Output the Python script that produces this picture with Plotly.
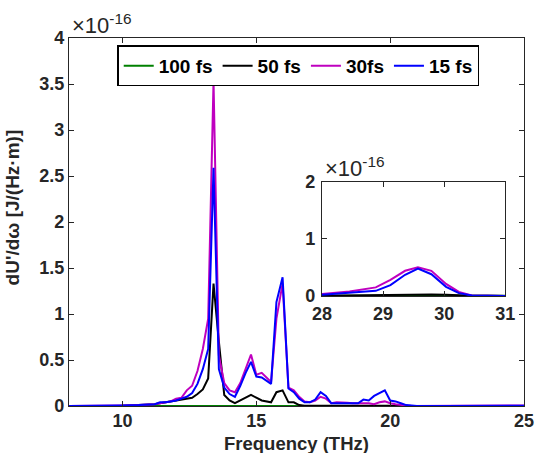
import plotly.graph_objects as go

# ---------------- data (values in units of 1e-16 J/(Hz·m)) ----------------
freq = [8.0, 9.0, 10.0, 10.6, 11.0, 11.2, 11.4, 11.6, 11.8, 12.0, 12.2, 12.4, 12.6, 12.8,
        13.0, 13.2, 13.4, 13.6, 13.8, 14.0, 14.2, 14.4, 14.6, 14.8, 15.0, 15.2, 15.55,
        15.75, 15.98, 16.2, 16.4, 16.6, 16.8, 17.0, 17.2, 17.4, 17.6, 17.8, 18.0, 18.2,
        18.4, 18.6, 18.8, 19.0, 19.2, 19.4, 19.6, 19.8, 20.0, 20.2, 20.4, 20.6, 20.8,
        21.0, 22.0, 23.0, 24.0, 25.0]

fs100 = [0.0, 0.0, 0.0, 0.0, 0.0, 0.0, 0.002, 0.002, 0.002, 0.003, 0.003, 0.003, 0.004, 0.004,
         0.005, 0.005, 0.006, 0.005, 0.004, 0.004, 0.003, 0.003, 0.003, 0.003, 0.003, 0.003, 0.003,
         0.003, 0.003, 0.003, 0.002, 0.002, 0.002, 0.002, 0.002, 0.002, 0.002, 0.002, 0.001, 0.001,
         0.001, 0.001, 0.001, 0.001, 0.001, 0.001, 0.001, 0.001, 0.001, 0.0, 0.0, 0.0, 0.0,
         0.0, 0.0, 0.0, 0.0, 0.0]

fs50 = [0.0, 0.0, 0.003, 0.01, 0.015, 0.02, 0.03, 0.04, 0.05, 0.06, 0.07, 0.08, 0.09, 0.13,
        0.18, 0.30, 1.33, 0.70, 0.12, 0.06, 0.03, 0.06, 0.09, 0.12, 0.09, 0.06, 0.04,
        0.15, 0.17, 0.04, 0.04, 0.01, 0.003, 0.003, 0.003, 0.003, 0.003, 0.003, 0.003, 0.003,
        0.003, 0.003, 0.003, 0.005, 0.005, 0.005, 0.008, 0.01, 0.005, 0.003, 0.0, 0.0, 0.0,
        0.0, 0.0, 0.0, 0.0, 0.0]

fs30 = [0.0, 0.0, 0.005, 0.01, 0.015, 0.02, 0.03, 0.04, 0.05, 0.08, 0.09, 0.17, 0.22, 0.38,
        0.62, 0.95, 3.53, 0.55, 0.25, 0.17, 0.15, 0.25, 0.40, 0.56, 0.34, 0.36, 0.26,
        0.95, 1.33, 0.20, 0.17, 0.10, 0.05, 0.04, 0.06, 0.10, 0.08, 0.03, 0.04, 0.04,
        0.035, 0.03, 0.03, 0.03, 0.03, 0.02, 0.04, 0.05, 0.03, 0.02, 0.01, 0.005, 0.0,
        0.0, 0.0, 0.0, 0.005, 0.005]

fs15 = [0.0, 0.0, 0.005, 0.01, 0.015, 0.02, 0.04, 0.04, 0.05, 0.06, 0.08, 0.10, 0.14, 0.24,
        0.40, 0.62, 2.59, 0.40, 0.20, 0.13, 0.10, 0.22, 0.36, 0.48, 0.32, 0.31, 0.24,
        1.13, 1.40, 0.19, 0.15, 0.08, 0.04, 0.04, 0.07, 0.15, 0.11, 0.03, 0.03, 0.03,
        0.03, 0.03, 0.03, 0.07, 0.06, 0.11, 0.14, 0.17, 0.06, 0.05, 0.03, 0.01, 0.005,
        0.0, 0.0, 0.0, 0.003, 0.003]

inset_freq = [28.0, 28.45, 28.88, 29.12, 29.36, 29.57, 29.79, 30.03, 30.24, 30.45, 30.7, 31.0]
inset_100 = [0.005, 0.006, 0.008, 0.009, 0.01, 0.01, 0.01, 0.008, 0.006, 0.004, 0.003, 0.002]
inset_50 = [0.005, 0.01, 0.02, 0.025, 0.03, 0.03, 0.025, 0.02, 0.01, 0.005, 0.002, 0.001]
inset_30 = [0.035, 0.08, 0.15, 0.28, 0.44, 0.50, 0.44, 0.21, 0.07, 0.01, 0.003, 0.001]
inset_15 = [0.02, 0.05, 0.09, 0.19, 0.37, 0.48, 0.38, 0.16, 0.05, 0.01, 0.003, 0.001]

names = ["100 fs", "50 fs", "30fs", "15 fs"]
colors = ["#008000", "#000000", "#BF00BF", "#0000FF"]

x_ticks = [10, 15, 20, 25]
inset_x_ticks = [28, 29, 30, 31]

# ---------------- figure ----------------
FONT = "Liberation Sans, Arial, Helvetica, sans-serif"
AXC = "#262626"
fig = go.Figure()

main_series = [fs100, fs50, fs30, fs15]
inset_series = [inset_100, inset_50, inset_30, inset_15]

for nm, col, ys in zip(names, colors, main_series):
    fig.add_trace(go.Scatter(x=freq, y=ys, mode="lines", name=nm,
                             line=dict(color=col, width=2), xaxis="x", yaxis="y"))
for nm, col, ys in zip(names, colors, inset_series):
    fig.add_trace(go.Scatter(x=inset_freq, y=ys, mode="lines", name=nm, showlegend=False,
                             line=dict(color=col, width=2), xaxis="x2", yaxis="y2"))

axis_common = dict(showline=True, linecolor=AXC, linewidth=1.2, mirror="ticks",
                   ticks="inside", ticklen=5, tickcolor=AXC, tickwidth=1,
                   showgrid=False, zeroline=False,
                   tickfont=dict(family=FONT, size=18, color=AXC, weight="bold"))

fig.update_layout(
    width=546, height=453, autosize=False,
    margin=dict(l=69, r=13, t=38, b=47),
    paper_bgcolor="white", plot_bgcolor="white",
    xaxis=dict(range=[8, 25], tickvals=x_ticks, domain=[0, 1], ticklabelstandoff=-2,
               **axis_common),
    yaxis=dict(range=[0, 4], dtick=0.5, domain=[0, 1], **axis_common),
    xaxis2=dict(range=[28, 31], tickvals=inset_x_ticks, domain=[0.556, 0.959],
                anchor="y2", ticklabelstandoff=1, **axis_common),
    yaxis2=dict(range=[0, 2], dtick=1, domain=[0.299, 0.610], anchor="x2",
                ticklabelstandoff=2, **axis_common),
    legend=dict(orientation="h", x=0.106, y=0.98, xanchor="left", yanchor="top",
                bgcolor="white", bordercolor="black", borderwidth=1.5,
                font=dict(family=FONT, size=19, color="black", weight="bold"),
                itemwidth=30, tracegroupgap=0),
    showlegend=True,
)

fig.add_annotation(xref="paper", yref="paper", x=0.002, y=0.995, xanchor="left", yanchor="bottom",
                   text="×10<sup>-16</sup>", showarrow=False,
                   font=dict(family=FONT, size=22, color=AXC))
fig.add_annotation(xref="paper", yref="paper", x=0.558, y=0.605, xanchor="left", yanchor="bottom",
                   text="×10<sup>-16</sup>", showarrow=False,
                   font=dict(family=FONT, size=22, color=AXC))
fig.add_annotation(xref="paper", yref="paper", x=0.5, y=-0.1008, xanchor="center", yanchor="middle",
                   text="Frequency (THz)", showarrow=False,
                   font=dict(family=FONT, size=18.5, color=AXC, weight="bold"))
fig.add_annotation(xref="paper", yref="paper", x=-0.125, y=0.54, xanchor="center", yanchor="middle",
                   text="dU'/dω [J/(Hz·m)]", showarrow=False, textangle=-90,
                   font=dict(family=FONT, size=19, color=AXC, weight="bold"))

fig.write_html("out.html")
